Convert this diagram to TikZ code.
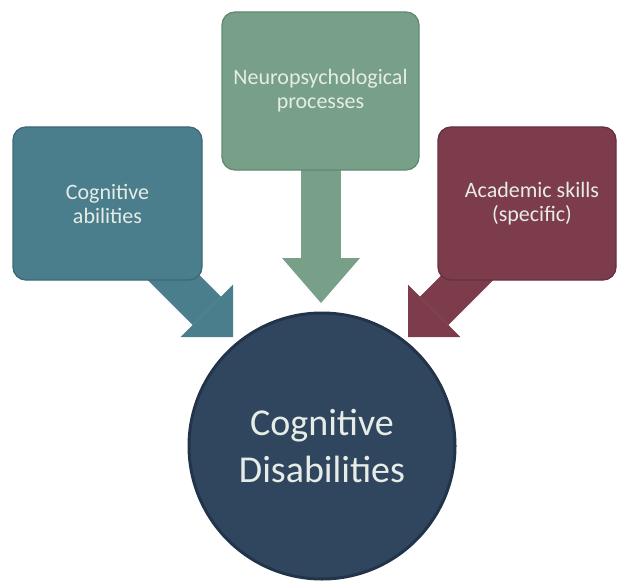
\documentclass[tikz,border=0pt]{standalone}
\usepackage{fontspec}
\setmainfont{Carlito}
\usetikzlibrary{arrows.meta,backgrounds}
\definecolor{tealfill}{HTML}{4A7E8C}
\definecolor{tealedge}{HTML}{3C6A77}
\definecolor{greenfill}{HTML}{78A088}
\definecolor{greenedge}{HTML}{628A72}
\definecolor{redfill}{HTML}{7D3C4B}
\definecolor{rededge}{HTML}{67303D}
\definecolor{hubfill}{HTML}{30465F}
\definecolor{hubedge}{HTML}{22344A}
\definecolor{lighttext}{HTML}{E6ECE6}
\begin{document}
\begin{tikzpicture}[x=1pt,y=-1pt,
  srcbox/.style={rectangle, rounded corners=13pt, line width=1.3pt,
    inner sep=0pt, align=center, text=lighttext,
    font=\fontsize{22}{24}\selectfont},
  hub/.style={circle, fill=hubfill, draw=hubedge, line width=3pt,
    minimum size=266pt, inner sep=0pt, align=center, text=lighttext,
    font=\fontsize{38}{47}\selectfont},
  fat/.style={draw=#1, line width=40pt, line cap=butt}]
  % canvas
  \path[use as bounding box] (0,0) rectangle (617,580);

  % source boxes and the central circle
  \node[srcbox, fill=tealfill, draw=tealedge, minimum width=189pt, minimum height=153pt]
    (abil) at (107.5,203.5) {Cognitive\\abilities};
  \node[srcbox, fill=greenfill, draw=greenedge, minimum width=197pt, minimum height=158pt]
    (neuro) at (320.5,91) {Neuropsychological\\processes};
  \node[srcbox, fill=redfill, draw=rededge, minimum width=178pt, minimum height=153pt]
    (acad) at (527,203.5) {\hspace*{10pt}Academic skills\\\hspace*{10pt}(specific)};
  \node[hub] (hub) at (322,446) {Cognitive\\Disabilities};

  % arrow ends
  \coordinate (abilStart) at (140,244);
  \coordinate (abilTip) at (233,337);
  \coordinate (neuroStart) at (321,120);
  \coordinate (neuroTip) at (321,303);
  \coordinate (acadStart) at (501,244);
  \coordinate (acadTip) at (408,337);

  % block arrows behind the boxes
  \begin{scope}[on background layer]
    \draw[fat=tealfill, -{Triangle[width=74pt,length=37pt,line width=0pt]}]
      (abilStart) -- (abilTip);
    \draw[fat=greenfill, -{Triangle[width=78pt,length=45pt,line width=0pt]}]
      (neuroStart) -- (neuroTip);
    \draw[fat=redfill, -{Triangle[width=74pt,length=37pt,line width=0pt]}]
      (acadStart) -- (acadTip);
  \end{scope}
\end{tikzpicture}
\end{document}
